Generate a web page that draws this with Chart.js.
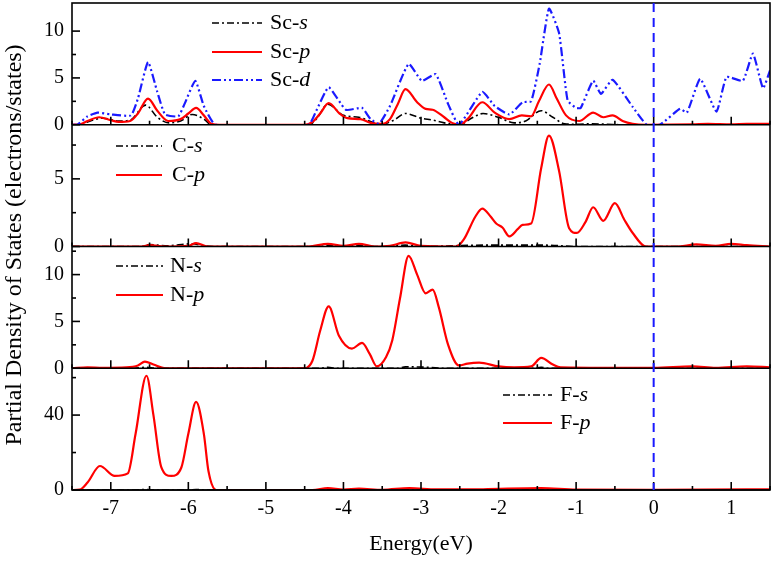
<!DOCTYPE html>
<html>
<head>
<meta charset="utf-8">
<script src="https://cdn.jsdelivr.net/npm/chart.js@4.4.1/dist/chart.umd.min.js"></script>
<style>
  html, body { margin: 0; padding: 0; background: #fff; }
</style>
</head>
<body>
<canvas id="pdos" width="774" height="561"></canvas>
<script>
// x axis
const xTicks = [-7, -6, -5, -4, -3, -2, -1, 0, 1];
const xMinor = [-7.5, -6.5, -5.5, -4.5, -3.5, -2.5, -1.5, -0.5, 0.5, 1.5];
const fermiLevel = 0;

// Sc panel
const scS_E = [-7.5, -7.4, -7.3, -7.1, -6.9, -6.75, -6.55, -6.4, -6.25, -6.1, -5.95, -5.8, -5.7, -4.45, -4.35, -4.2, -4.0, -3.8, -3.6, -3.5, -3.35, -3.2, -3.0, -2.85, -2.7, -2.5, -2.35, -2.2, -2.0, -1.8, -1.65, -1.45, -1.3, -1.15, -1.0, -0.8, -0.6, -0.4, 0, 1.5];
const scS   = [0, 0, 0.3, 0.7, 0.4, 0.5, 2.1, 0.8, 0.2, 0.4, 1.1, 0.6, 0, 0, 0.6, 2.2, 1.0, 0.8, 0.2, 0.05, 0.5, 1.2, 0.7, 0.5, 0.2, 0, 0.7, 1.2, 0.8, 0.2, 0.4, 1.5, 0.8, 0.1, 0.05, 0.1, 0.05, 0, 0, 0];
const scP_E = [-7.5, -7.4, -7.3, -7.15, -7.0, -6.9, -6.75, -6.65, -6.52, -6.4, -6.26, -6.1, -6.0, -5.9, -5.8, -5.7, -5.6, -4.5, -4.4, -4.3, -4.19, -4.05, -3.95, -3.78, -3.65, -3.5, -3.4, -3.3, -3.2, -3.05, -2.94, -2.85, -2.7, -2.6, -2.5, -2.4, -2.21, -2.05, -1.86, -1.7, -1.58, -1.48, -1.35, -1.25, -1.13, -0.96, -0.78, -0.65, -0.53, -0.4, -0.27, -0.1, 0.5, 0.7, 1.0, 1.2, 1.5];
const scP   = [0, 0.05, 0.4, 0.8, 0.5, 0.3, 0.4, 1.2, 2.8, 1.5, 0.4, 0.6, 1.2, 1.8, 1.0, 0.1, 0, 0, 0.3, 1.2, 2.3, 1.2, 0.7, 0.6, 0.2, 0.1, 0.6, 2.2, 3.8, 2.4, 1.7, 1.6, 0.8, 0.2, 0, 0.6, 2.4, 1.3, 0.6, 1.0, 0.9, 2.5, 4.3, 2.8, 1.0, 0.4, 1.3, 0.8, 1.0, 0.4, 0.1, 0, 0.05, 0.1, 0.05, 0.1, 0.1];
const scD_E = [-7.5, -7.43, -7.3, -7.17, -7.0, -6.74, -6.65, -6.52, -6.4, -6.3, -6.13, -6.05, -5.91, -5.8, -5.65, -4.45, -4.35, -4.19, -3.97, -3.76, -3.65, -3.54, -3.4, -3.16, -2.99, -2.81, -2.65, -2.51, -2.21, -2.05, -1.86, -1.69, -1.58, -1.47, -1.35, -1.22, -1.11, -1.0, -0.94, -0.78, -0.68, -0.53, -0.27, -0.09, 0.08, 0.34, 0.43, 0.6, 0.81, 0.94, 1.15, 1.28, 1.41, 1.5];
const scD   = [0, 0, 0.9, 1.3, 1.1, 1.0, 2.8, 6.7, 3.5, 1.1, 0.9, 2.2, 4.7, 2.0, 0, 0, 1.5, 4.0, 1.6, 1.8, 0.6, 0.1, 2.0, 6.5, 4.7, 5.4, 2.2, 0, 3.5, 2.0, 1.1, 2.4, 2.5, 6.5, 12.4, 9.8, 2.6, 1.8, 1.8, 4.7, 3.3, 4.8, 1.9, 0, 0, 1.7, 1.3, 4.9, 1.4, 5.1, 4.7, 7.6, 3.9, 5.8];

// C panel
const cS_E = [-7.5, -6.6, -6.5, -6.3, -5.95, -5.8, -5.6, -4.3, -4.2, -4.0, -3.8, -3.6, -3.2, -3.0, -2.2, -1.4, -1.0, 1.5];
const cS   = [0, 0, 0.15, 0.05, 0.2, 0.05, 0, 0, 0.1, 0, 0.1, 0, 0.1, 0, 0.1, 0.1, 0, 0];
const cP_E = [-7.5, -6.6, -6.5, -6.3, -6.0, -5.9, -5.75, -4.45, -4.2, -4.0, -3.8, -3.6, -3.4, -3.2, -3.0, -2.55, -2.45, -2.3, -2.21, -2.1, -2.03, -1.95, -1.86, -1.75, -1.69, -1.58, -1.45, -1.35, -1.22, -1.09, -0.99, -0.88, -0.78, -0.65, -0.5, -0.38, -0.27, -0.1, 0.3, 0.55, 0.8, 1.0, 1.2, 1.5];
const cP   = [0, 0, 0.1, 0, 0.05, 0.25, 0, 0, 0.2, 0.05, 0.2, 0, 0.05, 0.3, 0.05, 0, 0.5, 2.2, 2.8, 2.2, 1.7, 1.4, 0.75, 1.3, 1.6, 1.7, 5.8, 8.2, 5.6, 1.35, 1.0, 1.8, 2.9, 1.9, 3.2, 2.0, 1.0, 0, 0, 0.15, 0.05, 0.2, 0.1, 0];

// N panel
const nS_E = [-7.5, -6.7, -6.55, -6.4, -4.3, -4.2, -4.1, -3.3, -3.2, -2.9, -2.7, -1.55, -1.45, -1.35, 1.5];
const nS   = [0, 0, 0.1, 0, 0, 0.1, 0, 0, 0.15, 0.1, 0, 0, 0.1, 0, 0];
const nP_E = [-7.5, -7.3, -7.1, -6.8, -6.65, -6.56, -6.45, -6.3, -4.5, -4.4, -4.3, -4.19, -4.06, -3.89, -3.76, -3.66, -3.57, -3.45, -3.37, -3.27, -3.16, -3.05, -2.94, -2.85, -2.77, -2.65, -2.51, -2.4, -2.25, -2.0, -1.8, -1.58, -1.45, -1.3, -1.2, -0.5, 0, 0.5, 0.8, 1.2, 1.5];
const nP   = [0, 0.1, 0.05, 0.1, 0.3, 0.7, 0.4, 0, 0, 0.8, 4.0, 6.6, 3.5, 2.1, 2.7, 1.5, 0.2, 1.2, 3.0, 7.5, 12.0, 10.0, 8.0, 8.4, 6.5, 2.5, 0.3, 0.5, 0.6, 0.2, 0.1, 0.2, 1.1, 0.4, 0.1, 0.05, 0.05, 0.2, 0.05, 0.2, 0.1];

// F panel
const fS_E = [-7.5, -6.7, -6.55, -6.4, -6.0, -5.9, -5.8, -4.3, -4.2, -4.1, -3.3, -3.15, -3.0, -1.55, -1.4, -1.25, 1.5];
const fS   = [0, 0, 0.3, 0, 0, 0.3, 0, 0, 0.3, 0, 0, 0.4, 0, 0, 0.4, 0, 0];
const fP_E = [-7.5, -7.4, -7.3, -7.14, -6.95, -6.78, -6.68, -6.54, -6.45, -6.35, -6.22, -6.09, -6.0, -5.9, -5.8, -5.74, -5.64, -4.4, -4.2, -4.0, -3.8, -3.5, -3.15, -2.8, -2.2, -1.45, -1.0, 0, 1.2, 1.5];
const fP   = [0, 0.2, 4, 12.8, 7.5, 8.9, 30, 61, 40, 12.4, 7.5, 12, 30, 47, 30, 10, 0, 0, 1.0, 0.2, 0.7, 0.1, 1.0, 0.3, 0.4, 1.0, 0.2, 0.1, 0.4, 0.3];

// y tick values per panel
const scTicks = [0, 5, 10], scMinor = [2.5, 7.5];
const cTicks = [0, 5], cMinor = [2.5, 7.5];
const nTicks = [0, 5, 10], nMinor = [2.5, 7.5, 12.5];
const fTicks = [0, 40], fMinor = [20, 60];

const SERIF = '"Liberation Serif", "Times New Roman", serif';
const pts = (xs, ys) => xs.map((x, i) => ({ x: x, y: ys[i] }));

const RED = '#ff0000', BLACK = '#000000', BLUE = '#1a1aff';
const dashS = [7, 3, 2, 3];
const dashD = [9, 3, 2, 3, 2, 3];

function sSet(label, data, axis) {
  return { label, data, yAxisID: axis, borderColor: BLACK, borderWidth: 1.6, borderDash: dashS,
    cubicInterpolationMode: 'monotone', pointRadius: 0, fill: false, order: 3 };
}
function pSet(label, data, axis) {
  return { label, data, yAxisID: axis, borderColor: RED, borderWidth: 2.2,
    cubicInterpolationMode: 'monotone', pointRadius: 0, fill: false, order: 2 };
}

const datasets = [
  sSet('Sc-s', pts(scS_E, scS), 'ySc'),
  pSet('Sc-p', pts(scP_E, scP), 'ySc'),
  { label: 'Sc-d', data: pts(scD_E, scD), yAxisID: 'ySc', borderColor: BLUE, borderWidth: 2.2, borderDash: dashD,
    tension: 0.15, pointRadius: 0, fill: false, order: 1 },
  sSet('C-s', pts(cS_E, cS), 'yC'),
  pSet('C-p', pts(cP_E, cP), 'yC'),
  sSet('N-s', pts(nS_E, nS), 'yN'),
  pSet('N-p', pts(nP_E, nP), 'yN'),
  sSet('F-s', pts(fS_E, fS), 'yF'),
  pSet('F-p', pts(fP_E, fP), 'yF')
];

// panels, bottom first (stacked axes are placed last-defined on top)
const panels = [
  { id: 'yF', max: 65, ticks: fTicks, minor: fMinor,
    legend: { x1: 503, x2: 552, tx: 560, rows: [{ y: 395, base: 'F-', orb: 's', c: BLACK, dash: dashS, lw: 1.6 }, { y: 423, base: 'F-', orb: 'p', c: RED, dash: [], lw: 2.2 }] } },
  { id: 'yN', max: 13, ticks: nTicks, minor: nMinor,
    legend: { x1: 116, x2: 163, tx: 170, rows: [{ y: 266, base: 'N-', orb: 's', c: BLACK, dash: dashS, lw: 1.6 }, { y: 295, base: 'N-', orb: 'p', c: RED, dash: [], lw: 2.2 }] } },
  { id: 'yC', max: 9, ticks: cTicks, minor: cMinor,
    legend: { x1: 116, x2: 162, tx: 172, rows: [{ y: 146, base: 'C-', orb: 's', c: BLACK, dash: dashS, lw: 1.6 }, { y: 175, base: 'C-', orb: 'p', c: RED, dash: [], lw: 2.2 }] } },
  { id: 'ySc', max: 13, ticks: scTicks, minor: scMinor,
    legend: { x1: 212, x2: 262, tx: 270, rows: [{ y: 23, base: 'Sc-', orb: 's', c: BLACK, dash: dashS, lw: 1.6 }, { y: 52, base: 'Sc-', orb: 'p', c: RED, dash: [], lw: 2.2 }, { y: 80, base: 'Sc-', orb: 'd', c: BLUE, dash: dashD, lw: 2.2 }] } }
];

const scales = {
  x: {
    type: 'linear', min: -7.5, max: 1.5,
    grid: { display: false, drawTicks: false }, border: { display: false },
    afterBuildTicks: s => { s.ticks = xTicks.map(v => ({ value: v })); },
    afterFit: s => { s.height = 71; s.paddingLeft = 0; s.paddingRight = 0; },
    ticks: { color: '#000', padding: 7, font: { family: SERIF, size: 20 }, autoSkip: false, maxRotation: 0 },
    title: { display: true, text: 'Energy(eV)', color: '#000', font: { family: SERIF, size: 22 }, padding: { top: 0, bottom: 4 } }
  }
};
panels.forEach(p => {
  scales[p.id] = {
    type: 'linear', position: 'left', stack: 'pdos', stackWeight: 1, min: 0, max: p.max,
    grid: { display: false, drawTicks: false }, border: { display: false },
    afterBuildTicks: s => { s.ticks = p.ticks.map(v => ({ value: v })); },
    afterFit: s => { s.width = 72; s.paddingTop = 0; s.paddingBottom = 0; },
    ticks: { color: '#000', padding: 8, font: { family: SERIF, size: 20 }, autoSkip: false }
  };
});

function line(ctx, x1, y1, x2, y2) {
  ctx.beginPath(); ctx.moveTo(x1, y1); ctx.lineTo(x2, y2); ctx.stroke();
}

const framePlugin = {
  id: 'frame',
  afterDatasetsDraw(chart) {
    const { ctx, chartArea: a } = chart;
    const xs = chart.scales.x;
    ctx.save();
    ctx.strokeStyle = '#000';
    ctx.lineWidth = 1.6;
    ctx.setLineDash([]);
    ctx.strokeRect(a.left, a.top, a.right - a.left, a.bottom - a.top);

    panels.forEach(p => {
      const s = chart.scales[p.id];
      const y0 = s.getPixelForValue(0);
      ctx.strokeStyle = '#000'; ctx.lineWidth = 1.6; ctx.setLineDash([]);
      line(ctx, a.left, y0, a.right, y0);
      xTicks.forEach(v => { const x = xs.getPixelForValue(v); line(ctx, x, y0, x, y0 - 8); });
      xMinor.forEach(v => { const x = xs.getPixelForValue(v); line(ctx, x, y0, x, y0 - 4); });
      p.ticks.forEach(v => { const y = s.getPixelForValue(v); line(ctx, a.left, y, a.left + 8, y); });
      p.minor.forEach(v => { const y = s.getPixelForValue(v); line(ctx, a.left, y, a.left + 4, y); });

      // legend
      const L = p.legend;
      L.rows.forEach(r => {
        ctx.strokeStyle = r.c; ctx.lineWidth = r.lw; ctx.setLineDash(r.dash);
        line(ctx, L.x1, r.y, L.x2, r.y);
        ctx.setLineDash([]);
        ctx.fillStyle = '#000';
        ctx.textBaseline = 'middle';
        ctx.textAlign = 'left';
        ctx.font = '22px ' + SERIF;
        ctx.fillText(r.base, L.tx, r.y);
        const w = ctx.measureText(r.base).width;
        ctx.font = 'italic 22px ' + SERIF;
        ctx.fillText(r.orb, L.tx + w, r.y);
      });
    });

    // Fermi level
    const xf = xs.getPixelForValue(fermiLevel);
    ctx.strokeStyle = BLUE; ctx.lineWidth = 2; ctx.setLineDash([9, 6]);
    line(ctx, xf, a.top, xf, a.bottom);
    ctx.setLineDash([]);

    // y title
    ctx.save();
    ctx.translate(15, 245);
    ctx.rotate(-Math.PI / 2);
    ctx.fillStyle = '#000';
    ctx.textAlign = 'center';
    ctx.textBaseline = 'middle';
    ctx.font = '24px ' + SERIF;
    ctx.fillText('Partial Density of States (electrons/states)', 0, 0);
    ctx.restore();
    ctx.restore();
  }
};

new Chart(document.getElementById('pdos').getContext('2d'), {
  type: 'line',
  data: { datasets: datasets },
  options: {
    responsive: false,
    devicePixelRatio: 1,
    animation: false,
    parsing: true,
    layout: { padding: { top: 3, right: 4, left: 0, bottom: 0 } },
    plugins: { legend: { display: false }, tooltip: { enabled: false } },
    scales: scales
  },
  plugins: [framePlugin]
});
</script>
</body>
</html>
